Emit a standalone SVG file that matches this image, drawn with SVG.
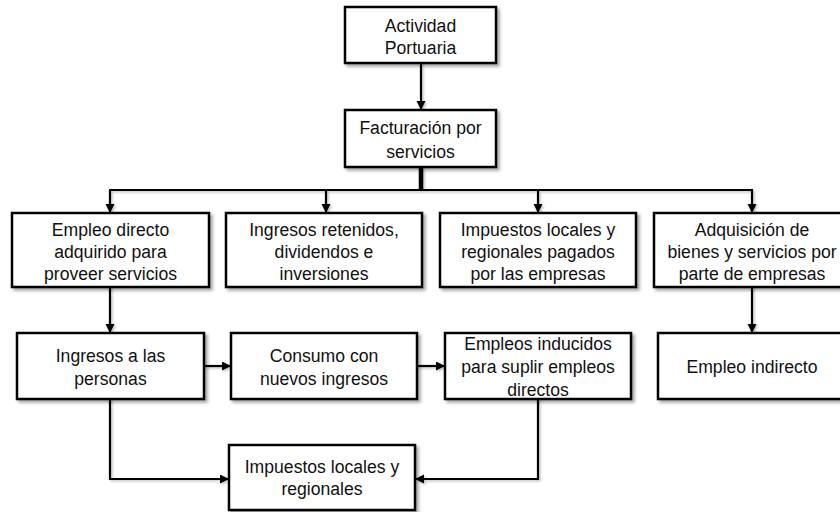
<svg xmlns="http://www.w3.org/2000/svg" width="840" height="512" viewBox="0 0 840 512">
  <defs>
    <filter id="shadow" x="-10%" y="-10%" width="130%" height="140%">
      <feDropShadow dx="2.5" dy="2.5" stdDeviation="1.5" flood-color="#000" flood-opacity="0.35"/>
    </filter>
    <filter id="lineShadow" x="-10%" y="-10%" width="130%" height="130%">
      <feDropShadow dx="1.5" dy="1.5" stdDeviation="1" flood-color="#000" flood-opacity="0.25"/>
    </filter>
    <marker id="arrow" markerUnits="userSpaceOnUse" markerWidth="10" markerHeight="10" refX="9" refY="4.5" orient="auto">
      <path d="M0,0 L9,4.5 L0,9 z" fill="#000"/>
    </marker>
  </defs>
  <style>
    .box { fill: #fff; stroke: #000; stroke-width: 2.5; filter: url(#shadow); }
    .lbl { font-family: "Liberation Sans", Arial, sans-serif; font-size: 17.6px; fill: #111; text-anchor: middle; }
    .conn { fill: none; stroke: #000; stroke-width: 2.2; }
    .arr { marker-end: url(#arrow); }
  </style>

  <rect width="840" height="512" fill="#fff"/>

  <!-- connectors -->
  <g id="connectors" filter="url(#lineShadow)">
    <line class="conn arr" x1="421" y1="63" x2="421" y2="110"/>
    <line class="conn" x1="421" y1="167" x2="421" y2="191" style="stroke-width:4.5"/>
    <line class="conn" x1="109" y1="190" x2="753" y2="190"/>
    <line class="conn arr" x1="110" y1="190" x2="110" y2="213"/>
    <line class="conn arr" x1="326" y1="190" x2="326" y2="213"/>
    <line class="conn arr" x1="538" y1="190" x2="538" y2="213"/>
    <line class="conn arr" x1="752" y1="190" x2="752" y2="213"/>
    <line class="conn arr" x1="110" y1="287" x2="110" y2="333"/>
    <line class="conn arr" x1="752" y1="287" x2="752" y2="333"/>
    <line class="conn arr" x1="204" y1="366" x2="231" y2="366"/>
    <line class="conn arr" x1="417" y1="366" x2="445" y2="366"/>
    <path class="conn arr" d="M110,399 V479 H229"/>
    <path class="conn arr" d="M538,399 V479 H415"/>
  </g>

  <!-- nodes -->
  <g id="actividad-portuaria">
    <rect class="box" x="345" y="7" width="151" height="56"/>
    <text class="lbl" x="420.5" y="32">Actividad</text>
    <text class="lbl" x="420.5" y="54">Portuaria</text>
  </g>

  <g id="facturacion">
    <rect class="box" x="345" y="110" width="151" height="57"/>
    <text class="lbl" x="420.5" y="134">Facturación por</text>
    <text class="lbl" x="420.5" y="158">servicios</text>
  </g>

  <g id="empleo-directo">
    <rect class="box" x="12" y="213" width="197" height="74"/>
    <text class="lbl" x="110.5" y="236">Empleo directo</text>
    <text class="lbl" x="110.5" y="258">adquirido para</text>
    <text class="lbl" x="110.5" y="280">proveer servicios</text>
  </g>

  <g id="ingresos-retenidos">
    <rect class="box" x="226" y="213" width="196" height="74"/>
    <text class="lbl" x="324" y="236">Ingresos retenidos,</text>
    <text class="lbl" x="324" y="258">dividendos e</text>
    <text class="lbl" x="324" y="280">inversiones</text>
  </g>

  <g id="impuestos-empresas">
    <rect class="box" x="440" y="213" width="196" height="74"/>
    <text class="lbl" x="538" y="236">Impuestos locales y</text>
    <text class="lbl" x="538" y="258">regionales pagados</text>
    <text class="lbl" x="538" y="280">por las empresas</text>
  </g>

  <g id="adquisicion">
    <rect class="box" x="654" y="213" width="196" height="74"/>
    <text class="lbl" x="752" y="236">Adquisición de</text>
    <text class="lbl" x="752" y="258">bienes y servicios por</text>
    <text class="lbl" x="752" y="280">parte de empresas</text>
  </g>

  <g id="ingresos-personas">
    <rect class="box" x="17" y="333" width="187" height="66"/>
    <text class="lbl" x="110.5" y="362">Ingresos a las</text>
    <text class="lbl" x="110.5" y="385">personas</text>
  </g>

  <g id="consumo">
    <rect class="box" x="231" y="333" width="186" height="66"/>
    <text class="lbl" x="324" y="362">Consumo con</text>
    <text class="lbl" x="324" y="385">nuevos ingresos</text>
  </g>

  <g id="empleos-inducidos">
    <rect class="box" x="445" y="333" width="186" height="66"/>
    <text class="lbl" x="538" y="350">Empleos inducidos</text>
    <text class="lbl" x="538" y="373">para suplir empleos</text>
    <text class="lbl" x="538" y="396">directos</text>
  </g>

  <g id="empleo-indirecto">
    <rect class="box" x="658" y="333" width="188" height="66"/>
    <text class="lbl" x="752" y="373">Empleo indirecto</text>
  </g>

  <g id="impuestos-regionales">
    <rect class="box" x="229" y="445" width="186" height="65"/>
    <text class="lbl" x="322" y="473">Impuestos locales y</text>
    <text class="lbl" x="322" y="495">regionales</text>
  </g>
</svg>
